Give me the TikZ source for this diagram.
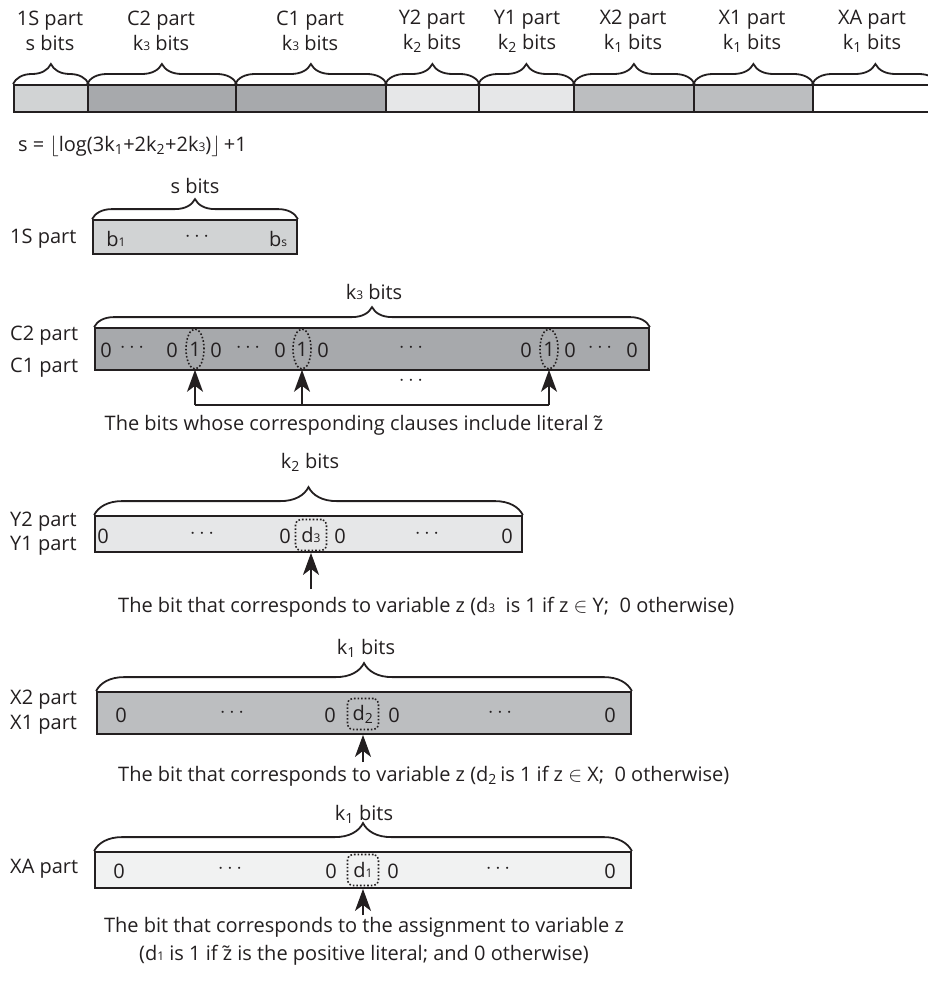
\documentclass[tikz,border=0pt]{standalone}
\usepackage{fontspec}
\setmainfont{Open Sans}
\usepackage{tikz}
\usetikzlibrary{arrows.meta,positioning,shapes.geometric,decorations.pathreplacing}
\usepackage{xcolor}
\definecolor{ink}{RGB}{35,31,32}
\definecolor{gray_s}{RGB}{209,211,212}
\definecolor{gray_c}{RGB}{167,169,172}
\definecolor{gray_y}{RGB}{230,231,232}
\definecolor{gray_x}{RGB}{188,190,192}
\definecolor{gray_xa}{RGB}{241,242,242}
\newcommand{\lo}[1]{\textsubscript{#1}}
\newcommand{\sd}[1]{{\fontsize{12}{12}\selectfont #1}}

\begin{document}
\begin{tikzpicture}[x=1pt,y=-1pt,draw=ink,line width=1.8pt,
                    >={Stealth[length=22pt,width=16pt,inset=6pt]},
                    every node/.style={font=\fontsize{20}{25}\selectfont,text=ink}]
    \tikzstyle{seg}=[draw,inner sep=0pt,minimum height=27pt,anchor=north west]
    \tikzstyle{bitbox}=[draw,inner sep=0pt]
    \tikzstyle{part brace}=[decorate,decoration={brace,amplitude=20pt}]
    \tikzstyle{big brace}=[decorate,decoration={brace,amplitude=28pt}]
    \tikzstyle{mark one}=[draw,dotted,ellipse,line width=1.6pt,minimum width=18pt,minimum height=40pt,inner sep=0pt]
    \tikzstyle{mark d}=[draw,dotted,rounded corners=5pt,line width=1.6pt,minimum width=31pt,minimum height=31pt,inner sep=0pt]
    \useasboundingbox (0,0) rectangle (927,990);

    % top row of parts
    \node[seg,fill=gray_s,minimum width=74pt]   (S)  at (13,84)  {};
    \node[seg,fill=gray_c,minimum width=148pt]  (C2) at (87,84)  {};
    \node[seg,fill=gray_c,minimum width=150pt]  (C1) at (235,84) {};
    \node[seg,fill=gray_y,minimum width=93pt]   (Y2) at (385,84) {};
    \node[seg,fill=gray_y,minimum width=95pt]   (Y1) at (478,84) {};
    \node[seg,fill=gray_x,minimum width=120pt]  (X2) at (573,84) {};
    \node[seg,fill=gray_x,minimum width=119pt]  (X1) at (693,84) {};
    \node[seg,fill=white,minimum width=125pt]   (XA) at (812,84) {};

    \draw[part brace] (S.north west)  -- (S.north east);
    \draw[part brace] (C2.north west) -- (C2.north east);
    \draw[part brace] (C1.north west) -- (C1.north east);
    \draw[part brace] (Y2.north west) -- (Y2.north east);
    \draw[part brace] (Y1.north west) -- (Y1.north east);
    \draw[part brace] (X2.north west) -- (X2.north east);
    \draw[part brace] (X1.north west) -- (X1.north east);
    \draw[part brace] (XA.north west) -- (XA.north east |- XA.north west);

    \node[align=center] (S_label)  at (50,31)  {1S part\\s bits};
    \node[align=center] (C2_label) at (161,31) {C2 part\\k\sd{3} bits};
    \node[align=center] (C1_label) at (310,31) {C1 part\\k\sd{3} bits};
    \node[align=center] (Y2_label) at (432,31) {Y2 part\\k\lo{2} bits};
    \node[align=center] (Y1_label) at (527,31) {Y1 part\\k\lo{2} bits};
    \node[align=center] (X2_label) at (633,31) {X2 part\\k\lo{1} bits};
    \node[align=center] (X1_label) at (752,31) {X1 part\\k\lo{1} bits};
    \node[align=center] (XA_label) at (872,31) {XA part\\k\lo{1} bits};

    \node[anchor=west] (formula) at (14,146) {s = $\lfloor$log(3k\lo{1}+2k\lo{2}+2k\sd{3})$\rfloor$\,+1};

    % 1S part
    \node[bitbox,fill=gray_s,minimum width=204pt,minimum height=34pt] (sbox) at (195,237) {};
    \draw[part brace] (sbox.north west) -- (sbox.north east);
    \node (sbits) at (195,186) {s bits};
    \node[anchor=west] (sname) at (6,239) {1S part};
    \node (b1) at (116,239) {b\sd{1}};
    \node (bdots) at (197,237) {$\cdots$};
    \node (bs) at (278,239) {b\sd{s}};

    % C2 / C1 part
    \node[bitbox,fill=gray_c,minimum width=554pt,minimum height=42pt] (cbox) at (372,349) {};
    \draw[part brace] (cbox.north west) -- (cbox.north east);
    \node (k3bits) at (374,292) {k\sd{3} bits};
    \node[anchor=west] (c2name) at (6,336) {C2 part};
    \node[anchor=west] (c1name) at (6,368) {C1 part};
    \node at (106,350) {0};
    \node at (132,348) {$\cdots$};
    \node at (172,350) {0};
    \node[mark one] (one1) at (195,349) {1};
    \node at (216,350) {0};
    \node at (248,348) {$\cdots$};
    \node at (280,350) {0};
    \node[mark one] (one2) at (302,349) {1};
    \node at (323,350) {0};
    \node at (411,348) {$\cdots$};
    \node at (526,350) {0};
    \node[mark one] (one3) at (549,349) {1};
    \node at (570,350) {0};
    \node at (600,348) {$\cdots$};
    \node at (632,350) {0};
    \node (cdots) at (411,381) {$\cdots$};
    \coordinate (j1) at (195,405);
    \coordinate (j2) at (302,405);
    \coordinate (j3) at (549,405);
    \draw (j1) -- (j3);
    \draw[->] (j1) -- (one1.south);
    \draw[->] (j2) -- (one2.south);
    \draw[->] (j3) -- (one3.south);
    \node (ccap) at (354,425) {The bits whose corresponding clauses include literal \~{z}};

    % Y2 / Y1 part
    \node[bitbox,fill=gray_y,minimum width=427pt,minimum height=36pt] (ybox) at (308.5,534) {};
    \draw[big brace] (ybox.north west) -- (ybox.north east);
    \node (k2bits) at (310,462) {k\lo{2} bits};
    \node[anchor=west] (y2name) at (6,522) {Y2 part};
    \node[anchor=west] (y1name) at (6,546) {Y1 part};
    \node at (103,536) {0};
    \node at (202,534) {$\cdots$};
    \node at (285,536) {0};
    \node[mark d] (d3) at (311,535) {d\sd{3}};
    \node at (340,536) {0};
    \node at (427,534) {$\cdots$};
    \node at (507,536) {0};
    \coordinate (yfoot) at (311,589);
    \draw[->] (yfoot) -- (d3.south |- ybox.south);
    \node[anchor=west] (ycap) at (114,607) {The bit that corresponds to variable z (d\sd{3}\ \ is 1 if z $\in$ Y;\ \ 0 otherwise)};

    % X2 / X1 part
    \node[bitbox,fill=gray_x,minimum width=534pt,minimum height=42pt] (xbox) at (364,713) {};
    \draw[big brace] (xbox.north west) -- (xbox.north east);
    \node (k1bits) at (366,648) {k\lo{1} bits};
    \node[anchor=west] (x2name) at (6,700) {X2 part};
    \node[anchor=west] (x1name) at (6,725) {X1 part};
    \node at (121,715) {0};
    \node at (232,713) {$\cdots$};
    \node at (330,715) {0};
    \node[mark d] (d2) at (363,714) {d\lo{2}};
    \node at (394,715) {0};
    \node at (500,713) {$\cdots$};
    \node at (610,715) {0};
    \coordinate (xfoot) at (363,762);
    \draw[->] (xfoot) -- (d2.south |- xbox.south);
    \node[anchor=west] (xcap) at (114,776) {The bit that corresponds to variable z (d\lo{2}\,is 1 if z $\in$ X;\ \ 0 otherwise)};

    % XA part
    \node[bitbox,fill=gray_xa,minimum width=536pt,minimum height=36pt] (abox) at (363,870) {};
    \draw[big brace] (abox.north west) -- (abox.north east);
    \node (k1bitsA) at (364,814) {k\lo{1} bits};
    \node[anchor=west] (xaname) at (6,869) {XA part};
    \node at (119,871) {0};
    \node at (230,869) {$\cdots$};
    \node at (331,871) {0};
    \node[mark d] (d1) at (363,870) {d\sd{1}};
    \node at (393,871) {0};
    \node at (498,869) {$\cdots$};
    \node at (610,871) {0};
    \coordinate (afoot) at (363,915);
    \draw[->] (afoot) -- (d1.south |- abox.south);
    \node[align=center,font=\fontsize{20}{28}\selectfont] (acap) at (364,941) {The bit that corresponds to the assignment to variable z\\(d\sd{1} is 1 if \~{z} is the positive literal; and 0 otherwise)};
\end{tikzpicture}
\end{document}
